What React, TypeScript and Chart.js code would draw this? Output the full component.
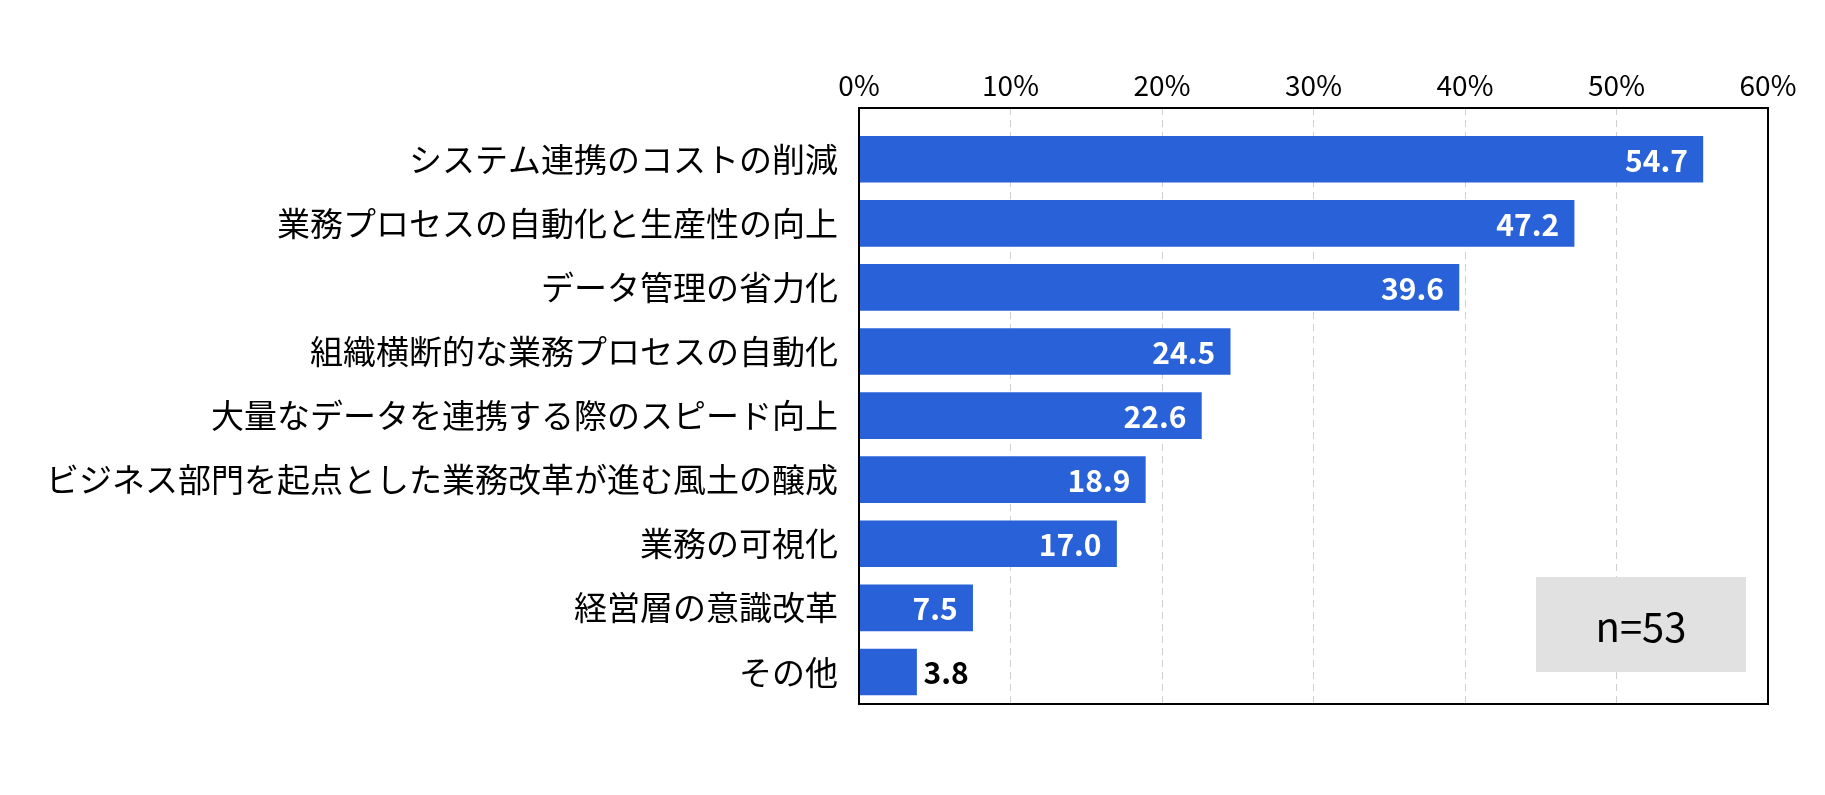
import React, { useEffect, useRef } from "react";
import { Chart, registerables } from "chart.js";

Chart.register(...registerables);

const categories = [
  "システム連携のコストの削減",
  "業務プロセスの自動化と生産性の向上",
  "データ管理の省力化",
  "組織横断的な業務プロセスの自動化",
  "大量なデータを連携する際のスピード向上",
  "ビジネス部門を起点とした業務改革が進む風土の醸成",
  "業務の可視化",
  "経営層の意識改革",
  "その他",
];
// bar lengths as drawn in the picture (the first bar is drawn a little longer than its label)
const barValues = [55.7, 47.2, 39.6, 24.5, 22.6, 18.9, 17.0, 7.5, 3.8];
const valueLabels = ["54.7", "47.2", "39.6", "24.5", "22.6", "18.9", "17.0", "7.5", "3.8"];
const xTicks = [0, 10, 20, 30, 40, 50, 60];
const sampleNote = "n=53";

const FONT = "'Noto Sans CJK JP', 'Noto Sans', sans-serif";
const BAR_COLOR = "#2962d8";

const overlayPlugin = {
  id: "overlay",
  afterDatasetsDraw(chart: any) {
    const { ctx, chartArea } = chart;
    const meta = chart.getDatasetMeta(0);
    ctx.save();
    // value labels
    ctx.font = `bold 30px ${FONT}`;
    ctx.textBaseline = "middle";
    meta.data.forEach((bar: any, i: number) => {
      const v = barValues[i];
      if (v < 5) {
        ctx.fillStyle = "#000";
        ctx.textAlign = "left";
        ctx.fillText(valueLabels[i], bar.x + 7, bar.y + 1);
      } else {
        ctx.fillStyle = "#fff";
        ctx.textAlign = "right";
        ctx.fillText(valueLabels[i], bar.x - 15, bar.y + 1);
      }
    });
    // frame
    ctx.strokeStyle = "#000";
    ctx.lineWidth = 2;
    ctx.strokeRect(chartArea.left, chartArea.top, chartArea.right - chartArea.left, chartArea.bottom - chartArea.top);
    // n box
    const w = 210;
    const h = 95;
    const bx = chartArea.right - 22 - w;
    const by = chartArea.bottom - 32 - h;
    ctx.fillStyle = "#e1e1e1";
    ctx.fillRect(bx, by, w, h);
    ctx.fillStyle = "#000";
    ctx.font = `40px ${FONT}`;
    ctx.textAlign = "center";
    ctx.fillText(sampleNote, bx + w / 2, by + h / 2 + 2);
    ctx.restore();
  },
};

const App: React.FC = () => {
  const chartRef = useRef<HTMLCanvasElement>(null);
  const chartInstance = useRef<Chart | null>(null);

  useEffect(() => {
    document.body.style.margin = "0";
    if (chartRef.current) {
      const ctx = chartRef.current.getContext("2d");
      if (ctx) {
        if (chartInstance.current) {
          chartInstance.current.destroy();
        }

        chartInstance.current = new Chart(ctx, {
          type: "bar",
          data: {
            datasets: [
              {
                data: barValues.map((v, i) => ({ x: v, y: i })),
                backgroundColor: BAR_COLOR,
                borderWidth: 0,
                barThickness: 46,
              },
            ],
          },
          options: {
            indexAxis: "y",
            responsive: false,
            animation: false,
            layout: {
              padding: { left: 0, right: 57, top: 0, bottom: 91 },
            },
            plugins: {
              legend: { display: false },
              tooltip: { enabled: false },
            },
            scales: {
              x: {
                type: "linear",
                position: "top",
                min: 0,
                max: 60,
                afterBuildTicks: (axis: any) => {
                  axis.ticks = xTicks.map((v) => ({ value: v }));
                },
                afterFit: (axis: any) => {
                  axis.height = 108;
                },
                ticks: {
                  callback: (v: any) => `${v}%`,
                  color: "#000",
                  font: { family: FONT, size: 28 },
                  padding: 6,
                  maxRotation: 0,
                },
                grid: {
                  color: "#cfcfcf",
                  lineWidth: 1,
                  drawTicks: false,
                },
                border: { display: false, dash: [7, 5] },
              },
              y: {
                type: "linear",
                offset: false,
                min: -0.8,
                max: 8.5,
                reverse: true,
                afterBuildTicks: (axis: any) => {
                  axis.ticks = categories.map((_, i) => ({ value: i }));
                },
                afterFit: (axis: any) => {
                  axis.width = 859;
                },
                ticks: {
                  callback: (v: any) => categories[v as number] ?? "",
                  color: "#000",
                  font: { family: FONT, size: 33 },
                  padding: 21,
                },
                grid: { display: false, drawTicks: false },
                border: { display: false },
              },
            },
          },
          plugins: [overlayPlugin],
        });
      }
    }

    return () => {
      if (chartInstance.current) {
        chartInstance.current.destroy();
        chartInstance.current = null;
      }
    };
  }, []);

  return (
    <div style={{ width: 1825, height: 795, background: "#fff" }}>
      <canvas ref={chartRef} width={1825} height={795}></canvas>
    </div>
  );
};

export default App;
